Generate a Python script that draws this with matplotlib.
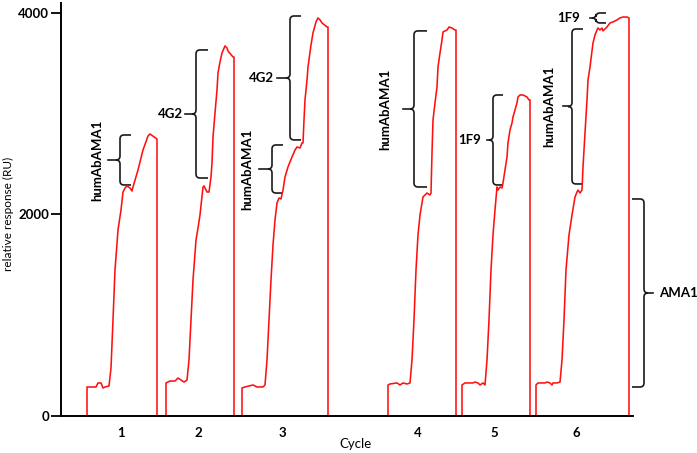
import matplotlib
matplotlib.use("Agg")
import matplotlib.pyplot as plt
import numpy as np
from matplotlib.path import Path
from matplotlib.patches import PathPatch

# sensorgram readings: time (a.u.) and response (RU) for each cycle
c1_t = [26, 26, 35, 37, 40, 42, 44, 48, 50, 52, 54, 57, 60, 62, 64, 66, 69, 71, 72, 77, 82, 87, 89, 96, 96]
c1_ru = [0, 288, 288, 328, 328, 278, 288, 298, 476, 953, 1449, 1846, 2045, 2223, 2263, 2283, 2263, 2233,
         2273, 2442, 2640, 2779, 2799, 2749, 0]

c2_t = [105, 105, 109, 114, 117, 120, 123, 126, 128, 130, 132, 135, 137, 139, 142, 143, 146, 148, 150, 151,
        152, 154, 156, 157, 159, 161, 164, 166, 167, 172, 173, 173]
c2_ru = [0, 328, 347, 347, 377, 357, 337, 357, 556, 953, 1350, 1747, 1866, 1995, 2273, 2283, 2223, 2223, 2372,
         2511, 2769, 3008, 3236, 3405, 3514, 3603, 3673, 3653, 3623, 3563, 3563, 0]

c3_t = [181, 181, 184, 192, 196, 199, 202, 204, 206, 208, 210, 212, 214, 216, 218, 220, 222, 224, 227, 231,
        234, 236, 239, 241, 242, 243, 244, 246, 247, 250, 252, 255, 257, 259, 261, 266, 267, 267]
c3_ru = [0, 278, 288, 308, 288, 288, 288, 308, 556, 953, 1350, 1697, 1946, 2114, 2164, 2154, 2243, 2372, 2472,
         2571, 2640, 2670, 2660, 2710, 2710, 2938, 3137, 3335, 3464, 3683, 3802, 3911, 3951, 3931, 3901, 3861,
         3861, 0]

c4_t = [327, 327, 329, 336, 339, 342, 346, 349, 351, 353, 355, 357, 359, 362, 366, 369, 370, 371, 372, 374,
        376, 377, 379, 381, 382, 386, 388, 391, 394, 395, 395]
c4_ru = [0, 308, 318, 328, 308, 328, 318, 328, 556, 953, 1449, 1797, 1995, 2174, 2213, 2194, 2213, 2611, 2938,
         3107, 3266, 3464, 3603, 3732, 3812, 3831, 3861, 3851, 3831, 3831, 0]

c5_t = [401, 401, 404, 412, 414, 417, 419, 422, 424, 426, 428, 430, 432, 434, 436, 437, 439, 441, 442, 444,
        446, 447, 449, 451, 452, 456, 457, 459, 462, 466, 468, 469, 469]
c5_ru = [0, 308, 328, 328, 337, 328, 308, 328, 308, 556, 953, 1449, 1797, 2045, 2273, 2243, 2273, 2263, 2313,
         2442, 2571, 2710, 2839, 2908, 2968, 3107, 3166, 3186, 3186, 3166, 3137, 3137, 0]

c6_t = [475, 475, 477, 484, 486, 489, 491, 492, 496, 499, 501, 503, 505, 508, 511, 514, 516, 517, 519, 521,
        522, 524, 526, 527, 529, 532, 534, 536, 537, 539, 541, 542, 546, 549, 552, 556, 559, 562, 566, 568, 568]
c6_ru = [0, 308, 328, 328, 337, 328, 308, 328, 328, 337, 556, 953, 1449, 1797, 1995, 2174, 2223, 2243, 2213,
         2243, 2472, 2809, 3137, 3335, 3464, 3702, 3782, 3831, 3851, 3831, 3851, 3822, 3861, 3901, 3911, 3931,
         3951, 3960, 3960, 3951, 0]

cycle_pos = [60, 137, 221, 357, 433, 515]
cycle_labels = ["1", "2", "3", "4", "5", "6"]

# brace annotations: label, spine x, arm x, low RU, high RU, tip x, label x, rotated
braces = [
    ("humAbAMA1", 59, 70, 2293, 2789, 47, 36, True),
    ("4G2", 135, 147, 2362, 3633, 124, 122, False),
    ("humAbAMA1", 211, 222, 2213, 2690, 198, 186, True),
    ("4G2", 229, 240, 2740, 3970, 216, 213, False),
    ("humAbAMA1", 353, 366, 2273, 3822, 342, 324, True),
    ("1F9", 432, 442, 2293, 3186, 426, 420, False),
    ("humAbAMA1", 511, 522, 2303, 3841, 502, 488, True),
    ("1F9", 535, 545, 3901, 4000, 529, 519, False),
    ("AMA1", 583, 571, 288, 2154, 592, 598, False),
]

YMAX = 4099
RU_PER_PX = 4000 / 403
FONT = ["Lato", "DejaVu Sans"]


def draw_brace(ax, spine, arm, lo, hi, tip, r=4, c=4):
    s = np.sign(arm - spine)
    ry = r * RU_PER_PX
    mid = (lo + hi) / 2
    cusp = spine - s * c
    verts = [(arm, hi), (spine + s * r, hi), (spine, hi), (spine, hi - ry),
             (spine, mid + ry), (spine, mid), (cusp, mid),
             (spine, mid), (spine, mid - ry),
             (spine, lo + ry), (spine, lo), (spine + s * r, lo), (arm, lo)]
    codes = [Path.MOVETO, Path.LINETO, Path.CURVE3, Path.CURVE3,
             Path.LINETO, Path.CURVE3, Path.CURVE3,
             Path.CURVE3, Path.CURVE3,
             Path.LINETO, Path.CURVE3, Path.CURVE3, Path.LINETO]
    ax.add_patch(PathPatch(Path(verts, codes), fill=False, lw=1.2, ec="#1a1a1a", clip_on=False))
    ax.plot([cusp, tip], [mid, mid], color="#1a1a1a", lw=1.2, clip_on=False)
    return mid


fig = plt.figure(figsize=(6.97, 4.53), dpi=100)
ax = fig.add_axes([61 / 697, 37 / 453, 572 / 697, 413 / 453])

for t, ru in [(c1_t, c1_ru), (c2_t, c2_ru), (c3_t, c3_ru), (c4_t, c4_ru), (c5_t, c5_ru), (c6_t, c6_ru)]:
    ax.plot(t, ru, color="#ff1010", lw=1.15)

for label, spine, arm, lo, hi, tip, lx, rot in braces:
    mid = draw_brace(ax, spine, arm, lo, hi, tip)
    if rot:
        ax.text(lx, mid, label, rotation=90, ha="center", va="center",
                fontsize=9.5, fontweight="bold", family=FONT)
    elif arm < spine:
        ax.text(lx, mid, label, ha="left", va="center",
                fontsize=9.5, fontweight="bold", family=FONT, clip_on=False)
    else:
        ax.text(lx, mid, label, ha="right", va="center",
                fontsize=9.5, fontweight="bold", family=FONT)

ax.set_xlim(0, 572)
ax.set_ylim(0, YMAX)
ax.set_yticks([0, 2000, 4000])
ax.set_xticks(cycle_pos)
ax.set_xticklabels(cycle_labels)
for s in ["top", "right"]:
    ax.spines[s].set_visible(False)
for s in ["left", "bottom"]:
    ax.spines[s].set_linewidth(1.4)
ax.tick_params(axis="y", length=7, width=1.3, pad=1.5, labelsize=9.5)
ax.tick_params(axis="x", length=0, pad=8, labelsize=9.5)
for lab in ax.get_xticklabels() + ax.get_yticklabels():
    lab.set_family(FONT)
    lab.set_fontweight("bold")

ax.set_xlabel("Cycle", fontsize=9.5, family=FONT, va="center")
ax.xaxis.set_label_coords(294 / 572, -(444 - 416) / 413)
ax.set_ylabel("relative response (RU)", fontsize=8.5, family=FONT, va="center")
ax.yaxis.set_label_coords((8 - 61) / 572, (416 - 214) / 413)

fig.savefig("out.png", dpi=100)
